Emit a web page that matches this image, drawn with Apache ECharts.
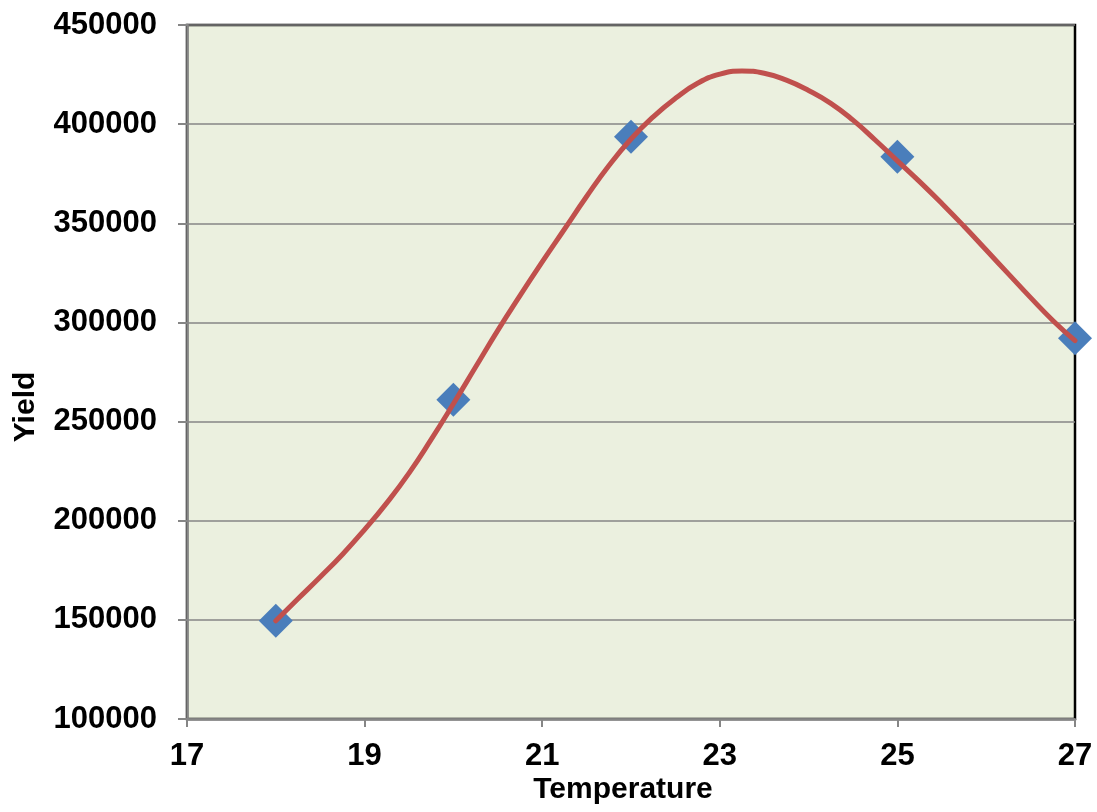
<!DOCTYPE html>
<html>
<head>
<meta charset="utf-8">
<title>Yield vs Temperature</title>
<script src="https://cdn.jsdelivr.net/npm/echarts@6/dist/echarts.min.js"></script>
<style>
  html, body { margin: 0; padding: 0; background: #ffffff; }
  #chart { width: 1097px; height: 812px; }
</style>
</head>
<body>
<div id="chart"></div>
<script>
// Measured yields at each temperature
const temperatures = [18, 20, 22, 25, 27];
const yields = [149500, 261000, 393700, 383600, 292000];

// Smoothed response curve, sampled every quarter degree
const curveTemps = [
  18, 18.25, 18.5, 18.75, 19, 19.25, 19.5, 19.75,
  20, 20.25, 20.5, 20.75, 21, 21.25, 21.5, 21.75,
  22, 22.25, 22.5, 22.75, 23, 23.25, 23.5, 23.75,
  24, 24.25, 24.5, 24.75, 25, 25.25, 25.5, 25.75,
  26, 26.25, 26.5, 26.75, 27
];
const curveYields = [
  149500, 160600, 171600, 183000, 195500, 209000, 224000, 241000,
  259000, 277500, 296000, 313500, 330500, 347000, 363500, 379000,
  392500, 403700, 413000, 420600, 425200, 426800, 425700, 422200,
  417000, 410500, 402000, 392000, 381500, 371000, 360000, 348500,
  336500, 324500, 312500, 301000, 290800
];

// Axis ranges and tick steps
const xRange = { min: 17, max: 27, step: 2 };
const yRange = { min: 100000, max: 450000, step: 50000 };

const labelFont = { fontFamily: 'Liberation Sans, Arial, sans-serif', fontWeight: 'bold', fontSize: 31, color: '#000000' };
const axisGrey = '#868686';

const chart = echarts.init(document.getElementById('chart'), null, { renderer: 'canvas' });

chart.setOption({
  animation: false,
  backgroundColor: '#ffffff',
  grid: {
    left: 187, right: 22, top: 25, bottom: 93,
    show: true,
    backgroundColor: '#EBF0DF',
    borderColor: '#000000',
    borderWidth: 2.5
  },
  xAxis: {
    type: 'value',
    min: xRange.min, max: xRange.max, interval: xRange.step,
    axisLine: { show: true, lineStyle: { color: axisGrey, width: 2.5 } },
    axisTick: { show: true, inside: false, length: 8, lineStyle: { color: axisGrey, width: 2 } },
    axisLabel: Object.assign({ margin: 22, formatter: v => String(v) }, labelFont),
    splitLine: { show: false }
  },
  yAxis: {
    type: 'value',
    min: yRange.min, max: yRange.max, interval: yRange.step,
    axisLine: { show: true, lineStyle: { color: axisGrey, width: 2.5 } },
    axisTick: { show: true, inside: false, length: 9, lineStyle: { color: axisGrey, width: 2 } },
    axisLabel: Object.assign({ margin: 30, formatter: v => String(v) }, labelFont),
    splitLine: { show: true, lineStyle: { color: axisGrey, width: 1.6 } }
  },
  graphic: [
    {
      type: 'text',
      x: 623, y: 790,
      style: {
        text: 'Temperature',
        font: 'bold 30px "Liberation Sans", Arial, sans-serif',
        fill: '#000000',
        align: 'center',
        verticalAlign: 'middle'
      }
    },
    {
      type: 'text',
      x: 26, y: 407,
      rotation: Math.PI / 2,
      style: {
        text: 'Yield',
        font: 'bold 30px "Liberation Sans", Arial, sans-serif',
        fill: '#000000',
        align: 'center',
        verticalAlign: 'middle'
      }
    }
  ],
  series: [
    {
      name: 'Measured',
      type: 'scatter',
      symbol: 'diamond',
      symbolSize: 34,
      itemStyle: { color: '#4A7EBB', opacity: 1 },
      data: temperatures.map((t, i) => [t, yields[i]]),
      z: 2
    },
    {
      name: 'Curve',
      type: 'line',
      smooth: 0.5,
      showSymbol: false,
      lineStyle: { color: '#C0504D', width: 5, cap: 'round', join: 'round' },
      data: curveTemps.map((t, i) => [t, curveYields[i]]),
      z: 3
    }
  ]
});
</script>
</body>
</html>
